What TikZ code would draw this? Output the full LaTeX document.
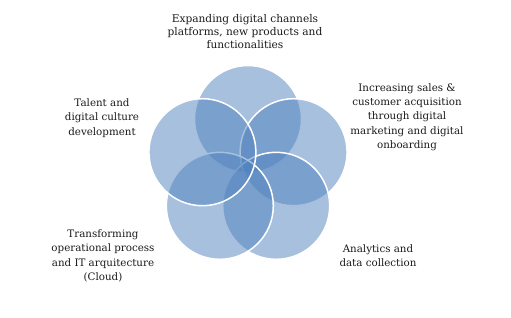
\documentclass[tikz,border=0pt]{standalone}
\usepackage{fontspec}
\setmainfont{DejaVu Serif}
\usetikzlibrary{positioning}
\definecolor{petalblue}{RGB}{79,129,189}
\definecolor{labelgrey}{HTML}{1A1A1A}

\begin{document}
\begin{tikzpicture}[
    x=1pt, y=-1pt,
    % Circle and label styles
    petal/.style={circle, minimum size=107pt, inner sep=0pt, fill=petalblue, fill opacity=0.5, draw=white, draw opacity=1, line width=1.5pt},
    goal/.style={align=center, text=labelgrey, font=\fontsize{10.3}{14.3}\selectfont},
]
\useasboundingbox (0,0) rectangle (511,317);

% ============================================================================
% CIRCLES
% ============================================================================
\coordinate (hub) at (248,167);
\node[petal] (channels) at (248,119) {};
\node[petal] (sales) at (293.6,152.2) {};
\node[petal] (analytics) at (276.2,205.8) {};
\node[petal] (process) at (219.8,205.8) {};
\node[petal] (talent) at (202.4,152.2) {};

% ============================================================================
% LABELS
% ============================================================================
\node[goal, font=\fontsize{10.6}{13}\selectfont] (channelstext) at (245,32) {Expanding digital channels\\platforms, new products and\\functionalities};
\node[goal] (salestext) at (407,117) {Increasing sales \&\\customer acquisition\\through digital\\marketing and digital\\onboarding};
\node[goal] (talenttext) at (102,118) {Talent and\\digital culture\\development};
\node[goal] (processtext) at (103,256) {Transforming\\operational process\\and IT arquitecture\\(Cloud)};
\node[goal] (analyticstext) at (378,256) {Analytics and\\data collection};

\end{tikzpicture}
\end{document}
